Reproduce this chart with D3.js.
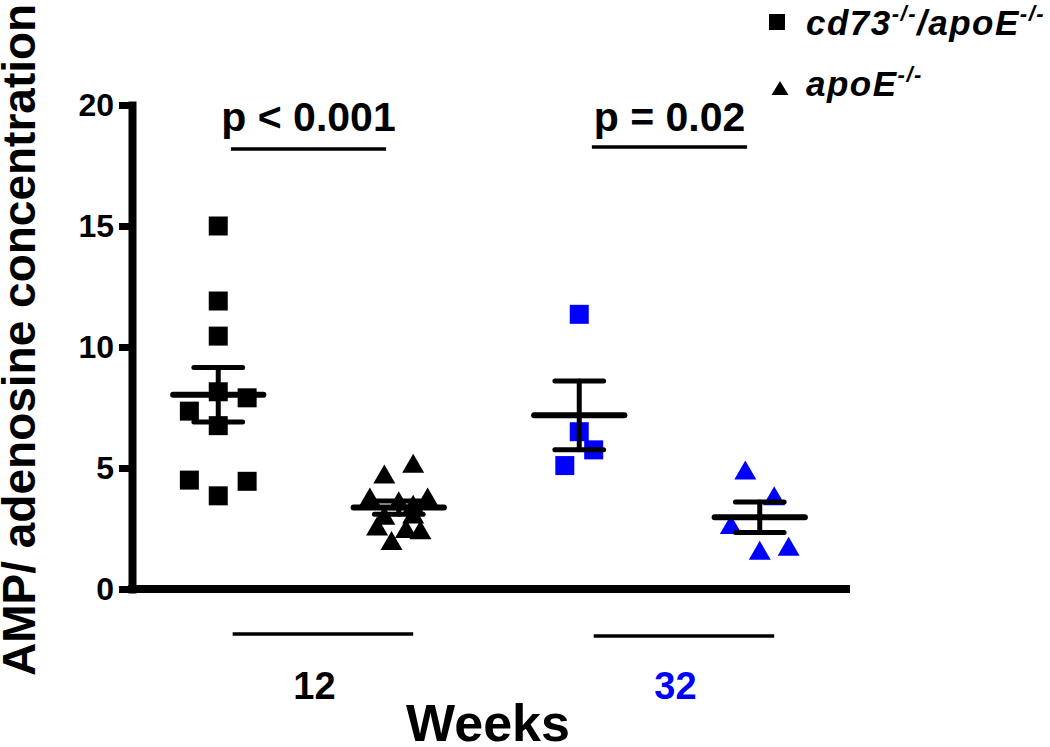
<!DOCTYPE html>
<html>
<head>
<meta charset="utf-8">
<script src="https://cdn.jsdelivr.net/npm/d3@7"></script>
<style>
  html, body { margin: 0; padding: 0; background: #fff; }
  svg { display: block; }
  text { font-family: "Liberation Sans", Arial, Helvetica, sans-serif; font-weight: bold; }
</style>
</head>
<body>
<svg id="chart" width="1050" height="747"></svg>
<script>
// ---------------- data ----------------
const weeks = ["12", "32"];
const weekColors = ["#000000", "#0000ff"];
const genotypes = ["cd73", "apoE"];
const pLabels = ["p < 0.001", "p = 0.02"];
const yTicks = [0, 5, 10, 15, 20];

// AMP / adenosine concentration, per animal
const cd73_12 = [15.0, 11.9, 10.45, 8.15, 7.9, 7.35, 6.75, 4.5, 3.85, 4.45];
const apoE_12 = [5.2, 4.75, 3.8, 3.65, 3.8, 3.5, 3.05, 3.1, 2.6, 2.5, 2.45, 2.0];
const cd73_32 = [11.35, 6.5, 5.75, 5.1];
const apoE_32 = [4.92, 3.85, 2.67, 1.6, 1.77];

// scatter column slots (GraphPad-style spreading of close values)
const cd73_12_slot = [0, 0, 0, 0, 2, -2, 0, -2, 0, 2];
const apoE_12_slot = [1, -1, -2, 0, 2, 1, -1, 1, -1.5, 0.5, 1.5, -0.5];
const cd73_32_slot = [0, 0, 1, -1];
const apoE_32_slot = [-1, 1, -2, 0, 2];

const series = [
  { week: 0, geno: 0, values: cd73_12, slots: cd73_12_slot },
  { week: 0, geno: 1, values: apoE_12, slots: apoE_12_slot },
  { week: 1, geno: 0, values: cd73_32, slots: cd73_32_slot },
  { week: 1, geno: 1, values: apoE_32, slots: apoE_32_slot }
];

// ---------------- layout ----------------
const svg = d3.select("#chart");
const x = d3.scaleLinear().domain([-0.5, 3.5]).range([128, 850]);
const y = d3.scaleLinear().domain([0, 20]).range([589, 105]);
const step = x(1) - x(0);
const slotW = step * 0.08;

// custom symbols (bbox-centred)
const squareSym = s => `M${-s/2},${-s/2}H${s/2}V${s/2}H${-s/2}Z`;
const triSym = (w, h) => `M0,${-h/2}L${w/2},${h/2}L${-w/2},${h/2}Z`;

// ---------------- points ----------------
series.forEach((s, gi) => {
  const cx = x(gi);
  const col = weekColors[s.week];
  svg.append("g").selectAll("path")
    .data(s.values.map((v, i) => ({ v, slot: s.slots[i] })))
    .join("path")
    .attr("transform", d => `translate(${cx + d.slot * slotW},${y(d.v)})`)
    .attr("d", s.geno === 0 ? squareSym(19) : triSym(22, 19))
    .attr("fill", col);
});

// ---------------- mean ± SEM ----------------
series.forEach((s, gi) => {
  const cx = x(gi);
  const m = d3.mean(s.values);
  const sem = d3.deviation(s.values) / Math.sqrt(s.values.length);
  const g = svg.append("g").attr("stroke", "#000").attr("stroke-linecap", "round");
  g.append("line").attr("x1", cx - step * 0.25).attr("x2", cx + step * 0.25)
    .attr("y1", y(m)).attr("y2", y(m)).attr("stroke-width", 6);
  g.append("line").attr("x1", cx).attr("x2", cx)
    .attr("y1", y(m + sem)).attr("y2", y(m - sem)).attr("stroke-width", 5);
  [m + sem, m - sem].forEach(v => {
    g.append("line").attr("x1", cx - step * 0.135).attr("x2", cx + step * 0.135)
      .attr("y1", y(v)).attr("y2", y(v)).attr("stroke-width", 5);
  });
});

// ---------------- axes ----------------
const yAxis = d3.axisLeft(y).tickValues(yTicks).tickSize(13).tickSizeOuter(0).tickPadding(5);
const gy = svg.append("g").attr("transform", `translate(${x(-0.5) + 4},0)`).call(yAxis);
gy.select(".domain").attr("stroke-width", 8).attr("stroke-linecap", "square");
gy.selectAll(".tick line").attr("stroke-width", 7);
gy.selectAll(".tick text").attr("font-size", 32).attr("fill", "#000")
  .style("font-family", '"Liberation Sans", Arial, sans-serif').style("font-weight", "bold");

const xAxis = d3.axisBottom(x).tickValues([]).tickSizeOuter(0);
const gx = svg.append("g").attr("transform", `translate(0,${y(0)})`).call(xAxis);
gx.select(".domain").attr("stroke-width", 8).attr("stroke-linecap", "butt");
gx.select(".domain").attr("d", `M${x(-0.5)},0H${x(3.5)}`);

// ---------------- group lines & labels below axis ----------------
weeks.forEach((w, wi) => {
  const mid = (x(wi * 2) + x(wi * 2 + 1)) / 2;
  svg.append("line")
    .attr("x1", mid + step * 0.08 - step * 0.5).attr("x2", mid + step * 0.08 + step * 0.5)
    .attr("y1", 634 + wi * 2).attr("y2", 634 + wi * 2)
    .attr("stroke", "#000").attr("stroke-width", 3.5);
  svg.append("text").attr("x", mid + 6).attr("y", 699)
    .attr("text-anchor", "middle").attr("font-size", 38)
    .attr("fill", weekColors[wi]).text(w);
});
svg.append("text").attr("x", 488).attr("y", 741).attr("text-anchor", "middle")
  .attr("font-size", 52).attr("fill", "#000").text("Weeks");

// ---------------- p-value brackets ----------------
pLabels.forEach((p, wi) => {
  const mid = (x(wi * 2) + x(wi * 2 + 1)) / 2;
  svg.append("line")
    .attr("x1", mid - step * 0.43).attr("x2", mid + step * 0.43)
    .attr("y1", 149 - wi * 2).attr("y2", 149 - wi * 2)
    .attr("stroke", "#000").attr("stroke-width", 3.5);
  svg.append("text").attr("x", mid).attr("y", 131)
    .attr("text-anchor", "middle").attr("font-size", 41).attr("fill", "#000").text(p);
});

// ---------------- y-axis title ----------------
svg.append("text")
  .attr("transform", "translate(35,676) rotate(-90)")
  .attr("text-anchor", "start").attr("font-size", 46).attr("fill", "#000")
  .text("AMP/ adenosine concentration");

// ---------------- legend ----------------
const legend = svg.append("g");
legend.append("path").attr("transform", "translate(777,22)").attr("d", squareSym(16)).attr("fill", "#000");
legend.append("path").attr("transform", "translate(780,88)").attr("d", triSym(17, 14)).attr("fill", "#000");

function legendText(yb, parts) {
  const t = legend.append("text").attr("x", 806).attr("y", yb)
    .attr("font-size", 35).attr("font-style", "italic").attr("fill", "#000")
    .attr("letter-spacing", 1.5);
  let raised = false;
  parts.forEach(([txt, sup]) => {
    const ts = t.append("tspan").text(txt);
    if (sup) {
      ts.attr("font-size", 22).attr("dy", raised ? 0 : -14);
      raised = true;
    } else {
      if (raised) ts.attr("dy", 14);
      raised = false;
    }
  });
}
legendText(35, [["cd73", false], ["-/-", true], ["/apoE", false], ["-/-", true]]);
legendText(96, [["apoE", false], ["-/-", true]]);
</script>
</body>
</html>
